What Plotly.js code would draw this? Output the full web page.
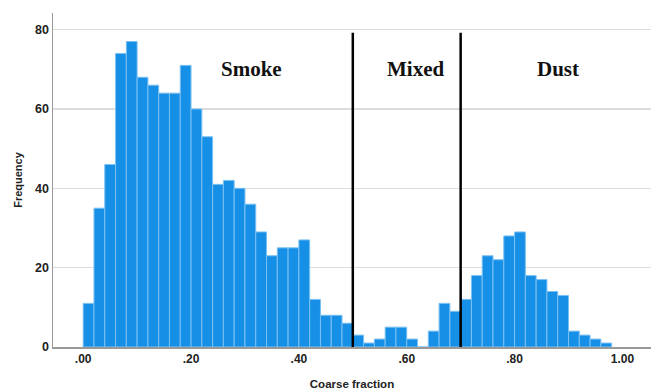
<!DOCTYPE html>
<html>
<head>
<meta charset="utf-8">
<script src="https://cdn.plot.ly/plotly-3.0.1.min.js"></script>
<style>html,body{margin:0;padding:0;background:#fff;}#chart{width:651px;height:391px;}</style>
</head>
<body>
<div id="chart"></div>
<script>
// Histogram of coarse fraction, bin width 0.02 starting at 0.00
const binStarts = [0.00,0.02,0.04,0.06,0.08,0.10,0.12,0.14,0.16,0.18,
                   0.20,0.22,0.24,0.26,0.28,0.30,0.32,0.34,0.36,0.38,
                   0.40,0.42,0.44,0.46,0.48,0.50,0.52,0.54,0.56,0.58,
                   0.60,0.62,0.64,0.66,0.68,0.70,0.72,0.74,0.76,0.78,
                   0.80,0.82,0.84,0.86,0.88,0.90,0.92,0.94,0.96];
const frequency = [11,35,46,74,77,68,66,64,64,71,
                   60,53,41,42,40,36,29,23,25,25,
                   27,12,8,8,6,3,1,2,5,5,
                   2,0,4,11,9,12,18,23,22,28,
                   29,18,17,14,13,4,3,2,1];
const binWidth = 0.02;
const xTickVals = [0,0.2,0.4,0.6,0.8,1.0];
const xTickText = ['.00','.20','.40','.60','.80','1.00'];
const yTickVals = [0,20,40,60,80];
const boundaries = [0.5, 0.7];
const regionLabels = ['Smoke','Mixed','Dust'];
const regionLabelX = [0.313, 0.617, 0.880];

const trace = {
  type: 'bar',
  x: binStarts,
  y: frequency,
  width: binStarts.map(() => binWidth),
  offset: 0,
  marker: {color: '#1690e6', line: {color: '#7cc0f2', width: 1}},
  hoverinfo: 'x+y'
};

const shapes = boundaries.map(b => ({
  type: 'line', xref: 'x', yref: 'y', x0: b, x1: b, y0: 0, y1: 79.2,
  line: {color: '#000', width: 2.5}, layer: 'above'
}));

const annotations = regionLabels.map((t, i) => ({
  text: '<b>' + t + '</b>', x: regionLabelX[i], y: 70.2, xref: 'x', yref: 'y',
  showarrow: false, xanchor: 'center', yanchor: 'middle',
  font: {family: 'Liberation Serif, Times New Roman, serif', size: 21, color: '#111'}
}));

const layout = {
  width: 651, height: 391,
  margin: {l: 53, r: 0, t: 13, b: 44, pad: 0},
  paper_bgcolor: '#fff', plot_bgcolor: '#fff',
  showlegend: false,
  bargap: 0,
  font: {family: 'Liberation Sans, Arial, sans-serif', color: '#222'},
  xaxis: {
    range: [-0.056, 1.053], tickvals: xTickVals, ticktext: xTickText,
    showgrid: false, zeroline: false, showline: true, linecolor: '#999', linewidth: 1.5,
    ticks: '', ticklen: 0,
    tickfont: {size: 12, family: 'Liberation Sans, Arial, sans-serif', weight: 'bold', color: '#222'},
    title: {text: '<b>Coarse fraction</b>', font: {size: 11.5, color: '#222'}, standoff: 15}
  },
  yaxis: {
    range: [0, 84.2], tickvals: yTickVals,
    showgrid: true, gridcolor: '#dcdcdc', gridwidth: 1.5,
    zeroline: false, showline: true, linecolor: '#999', linewidth: 1.5,
    ticks: '', ticklen: 0,
    tickfont: {size: 12.5, family: 'Liberation Sans, Arial, sans-serif', weight: 'bold', color: '#222'},
    title: {text: '<b>Frequency</b>', font: {size: 11, color: '#222'}, standoff: 10}
  },
  shapes: shapes,
  annotations: annotations
};

Plotly.newPlot('chart', [trace], layout, {displayModeBar: false, staticPlot: true});
</script>
</body>
</html>
